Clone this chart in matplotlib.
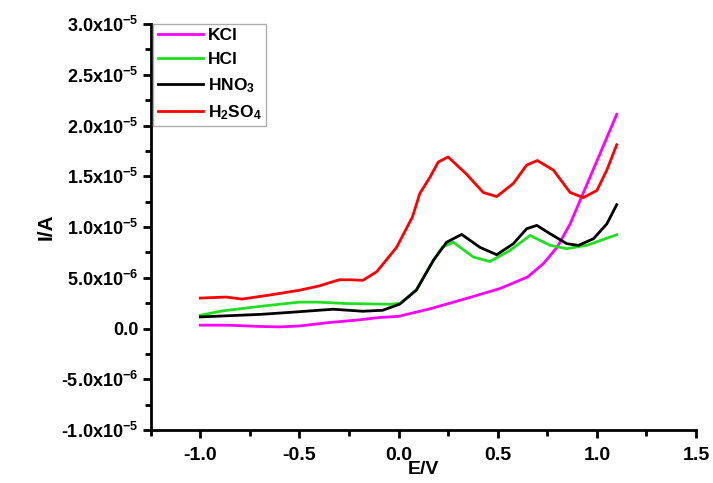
import numpy as np
import matplotlib
matplotlib.use("Agg")
import matplotlib.pyplot as plt
from matplotlib.ticker import FixedLocator, MultipleLocator

plt.rcParams['font.family'] = 'Liberation Sans'
plt.rcParams['font.weight'] = 'bold'
plt.rcParams['axes.unicode_minus'] = False
plt.rcParams['mathtext.fontset'] = 'custom'
plt.rcParams['mathtext.rm'] = 'Liberation Sans:bold'
plt.rcParams['mathtext.bf'] = 'Liberation Sans:bold'
plt.rcParams['mathtext.it'] = 'Liberation Sans:bold'

# data (current in units of 1e-6 A)
kcl_x = [-1.0, -0.85, -0.7, -0.6, -0.5, -0.35, -0.2, -0.1, 0.0, 0.16, 0.34, 0.51,
         0.65, 0.73, 0.8, 0.865, 0.93, 1.0, 1.05, 1.1]
kcl_y = [0.33, 0.32, 0.2, 0.16, 0.25, 0.59, 0.85, 1.08, 1.2, 1.95, 2.95, 3.93,
         5.07, 6.39, 8.02, 10.3, 13.3, 16.5, 18.8, 21.1]

hcl_x = [-1.0, -0.89, -0.69, -0.5, -0.41, -0.26, -0.04, 0.01, 0.09, 0.175, 0.22,
         0.276, 0.377, 0.461, 0.562, 0.663, 0.764, 0.848, 0.95, 1.1]
hcl_y = [1.3, 1.73, 2.2, 2.6, 2.6, 2.46, 2.39, 2.5, 3.8, 6.7, 8.0,
         8.5, 7.04, 6.6, 7.7, 9.17, 8.2, 7.87, 8.2, 9.24]

hno3_x = [-1.0, -0.69, -0.52, -0.33, -0.18, -0.08, 0.006, 0.09, 0.175, 0.242, 0.318,
          0.41, 0.495, 0.579, 0.646, 0.697, 0.764, 0.848, 0.907, 0.983, 1.05, 1.1]
hno3_y = [1.14, 1.4, 1.63, 1.9, 1.7, 1.8, 2.4, 3.8, 6.7, 8.5, 9.27,
          8.0, 7.27, 8.36, 9.83, 10.16, 9.34, 8.36, 8.19, 8.85, 10.3, 12.2]

h2so4_x = [-1.0, -0.87, -0.79, -0.65, -0.5, -0.4, -0.3, -0.245, -0.18, -0.11, -0.01,
           0.07, 0.107, 0.158, 0.2, 0.25, 0.343, 0.427, 0.495, 0.579, 0.646, 0.70,
           0.781, 0.865, 0.932, 1.0, 1.05, 1.1]
h2so4_y = [3.0, 3.1, 2.9, 3.3, 3.77, 4.2, 4.8, 4.8, 4.75, 5.6, 8.0,
           11.0, 13.3, 14.9, 16.4, 16.9, 15.2, 13.4, 13.0, 14.3, 16.1, 16.55,
           15.6, 13.4, 12.9, 13.6, 15.6, 18.1]

y_ticks = [-1.0e-5, -5.0e-6, 0.0, 5.0e-6, 1.0e-5, 1.5e-5, 2.0e-5, 2.5e-5, 3.0e-5]
y_ticklabels = ['-1.0x10$^{-5}$', '-5.0x10$^{-6}$', '0.0', '5.0x10$^{-6}$',
                '1.0x10$^{-5}$', '1.5x10$^{-5}$', '2.0x10$^{-5}$',
                '2.5x10$^{-5}$', '3.0x10$^{-5}$']

fig = plt.figure(figsize=(7.13, 4.83), dpi=100)
ax = fig.add_axes([0.2114, 0.1097, 0.7648, 0.8406])

lw = 2.0
ax.plot(kcl_x, np.array(kcl_y) * 1e-6, color='#ff00ff', lw=lw, label='KCl')
ax.plot(hcl_x, np.array(hcl_y) * 1e-6, color='#1fe01f', lw=lw, label='HCl')
ax.plot(hno3_x, np.array(hno3_y) * 1e-6, color='black', lw=lw, label=r'HNO$_3$')
ax.plot(h2so4_x, np.array(h2so4_y) * 1e-6, color='#ff0000', lw=lw, label=r'H$_2$SO$_4$')

ax.set_xlim(-1.25, 1.5)
ax.set_ylim(-1.0e-5, 3.0e-5)
ax.xaxis.set_major_locator(MultipleLocator(0.5))
ax.xaxis.set_minor_locator(MultipleLocator(0.25))
ax.yaxis.set_major_locator(FixedLocator(y_ticks))
ax.set_yticklabels(y_ticklabels)
ax.yaxis.set_minor_locator(MultipleLocator(2.5e-6))

for s in ['top', 'right']:
    ax.spines[s].set_visible(False)
for s in ['left', 'bottom']:
    ax.spines[s].set_linewidth(2)

ax.tick_params(which='major', direction='out', length=6, width=2, pad=3)
ax.tick_params(which='minor', direction='out', length=4, width=2)
ax.tick_params(axis='y', labelsize=13)
ax.tick_params(axis='x', labelsize=14, pad=6)

ax.set_xlabel('E/V', fontsize=14, fontweight='bold', labelpad=-2)
ax.set_ylabel('I/A', fontsize=15, fontweight='bold', labelpad=4)

leg = ax.legend(loc='upper left', bbox_to_anchor=(0.005, 1.0), fontsize=12.5,
                frameon=True, fancybox=False, handlelength=2.6, handletextpad=0.3,
                borderpad=0.25, labelspacing=0.5, borderaxespad=0.0)
leg.get_frame().set_edgecolor('#999999')
leg.get_frame().set_linewidth(1.0)
for t in leg.get_texts():
    t.set_fontweight('bold')

fig.savefig('out.png', dpi=100)
